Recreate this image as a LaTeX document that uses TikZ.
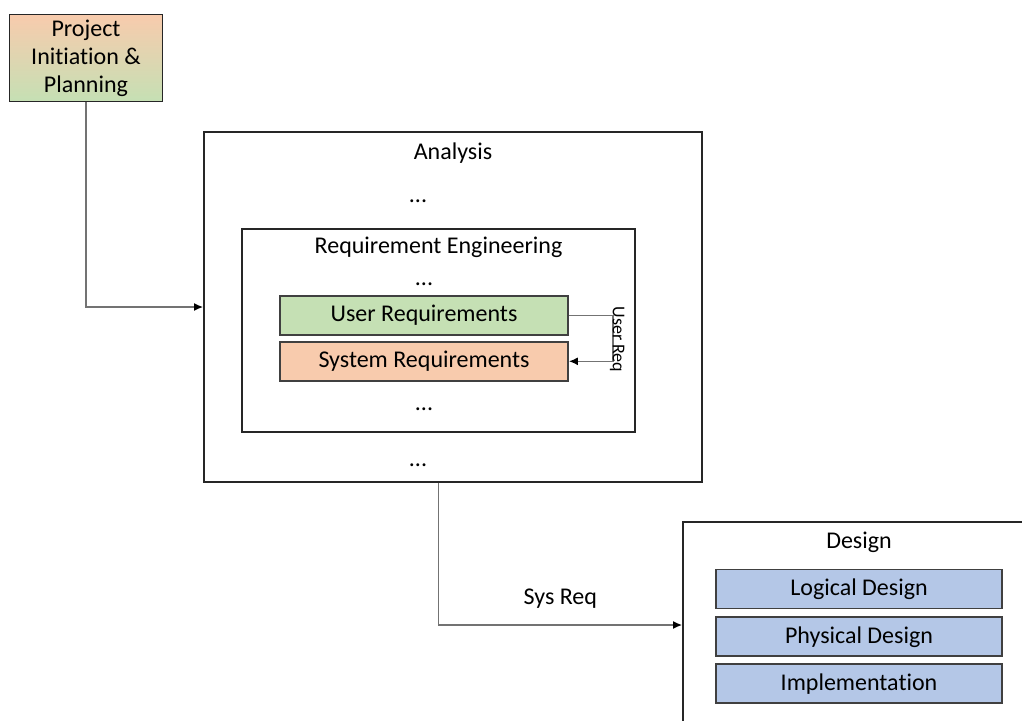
\documentclass[tikz,border=0pt]{standalone}
\usepackage{fontspec}
\setmainfont[Ligatures=NoCommon]{Carlito}
\usepackage{xcolor}
\usetikzlibrary{positioning, arrows.meta, calc}

\definecolor{reqgreen}{HTML}{C5E0B4}
\definecolor{reqorange}{HTML}{F8CBAD}
\definecolor{designblue}{HTML}{B4C7E7}

\tikzset{
  box/.style={draw=black!85, line width=1.8pt, rectangle, inner sep=0pt},
  item/.style={draw=black!75, line width=1.8pt, rectangle, minimum height=39pt},
  link/.style={draw=black!55, line width=1.5pt, -{Latex[length=9pt, width=8pt, black]}},
}

\begin{document}
\begin{tikzpicture}[x=1pt, y=-1pt, font=\fontsize{24}{28}\selectfont]
\useasboundingbox (0,0) rectangle (1022,720);

\node[box, top color=reqorange, bottom color=reqgreen, minimum width=153pt, minimum height=87pt, align=center] (proj) at (86,58) {Project\\Initiation \&\\Planning};

% analysis phase
\node[box, minimum width=498pt, minimum height=350pt] (analysis) at (453,307) {};
\node[below=8pt of analysis.north] (analysistitle) {Analysis};
\node (analysisdotstop) at (418,201) {...};
\node (analysisdotsbottom) at (418,465) {...};

\node[box, minimum width=393pt, minimum height=203pt] (reqeng) at (438.5,330.5) {};
\node[below=5pt of reqeng.north] (reqengtitle) {Requirement Engineering};
\node[item, fill=reqgreen, minimum width=288pt] (userreq) at (424,315.5) {User Requirements};
\node[item, fill=reqorange, minimum width=288pt, below=5pt of userreq] (sysreq) {System Requirements};
\node (reqdotstop) at (424,284) {...};
\node (reqdotsbottom) at (424,409) {...};

% design phase
\node[box, minimum width=400pt, minimum height=206pt] (design) at (883,625) {};
\node[item, fill=designblue, minimum width=286pt] (logical) at (859,589) {Logical Design};
\node[item, fill=designblue, minimum width=286pt, below=7pt of logical] (physical) {Physical Design};
\node[item, fill=designblue, minimum width=286pt, below=6pt of physical] (impl) {Implementation};
\node[above=12pt of logical] (designtitle) {Design};

\draw[link] (proj.south) |- (analysis.west);
\draw[link] (userreq.east) -- ++(44,0) |- node[pos=0.25, rotate=-90, anchor=base, xshift=1pt, font=\fontsize{18}{20}\selectfont] {User Req} (sysreq.east);
\draw[link] (reqeng |- analysis.south) |- node[pos=0.75, above=13pt] {Sys Req} (design.west);
\end{tikzpicture}
\end{document}
